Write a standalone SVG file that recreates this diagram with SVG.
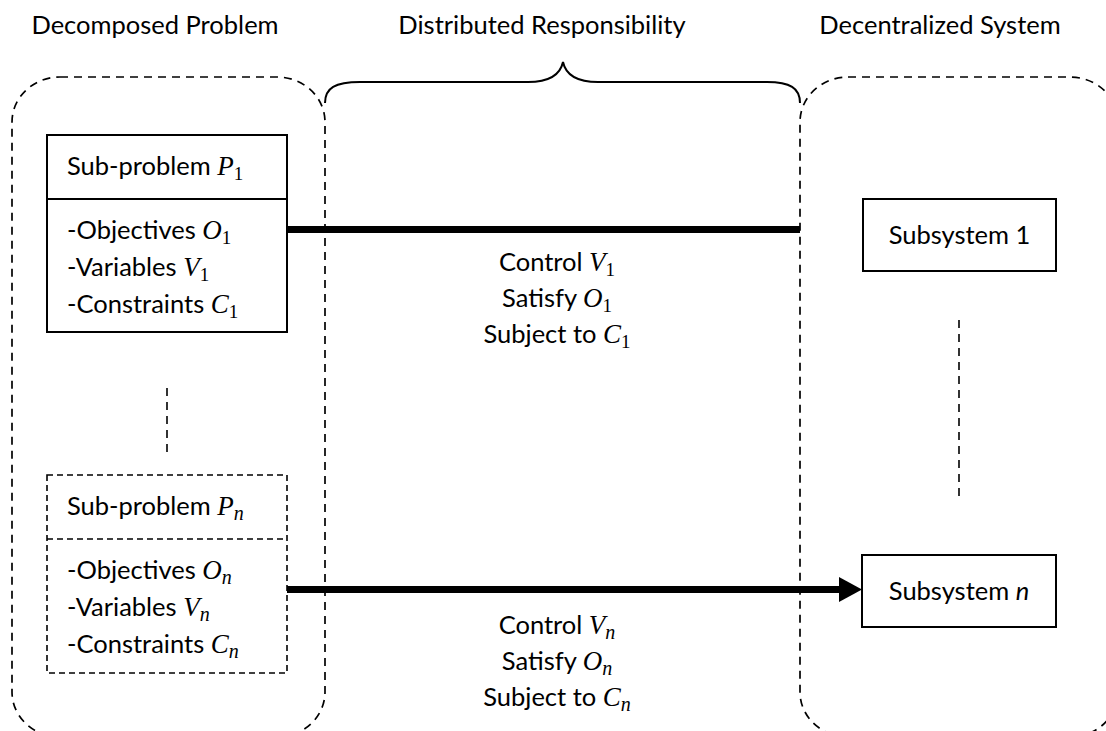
<svg xmlns="http://www.w3.org/2000/svg" width="1106" height="731" viewBox="0 0 1106 731">
<style>
text{font-family:Lato,"Liberation Sans",sans-serif;font-size:25.5px;fill:#000}
.m{font-family:"Liberation Serif",serif;font-style:italic;font-size:27px}
.s{font-family:"Liberation Serif",serif;font-size:19px;font-style:normal}
.si{font-family:"Liberation Serif",serif;font-size:20px;font-style:italic}
.c{text-anchor:middle}
.box{fill:#fff;stroke:#000;stroke-width:2}
.dbox{fill:#fff;stroke:#000;stroke-width:1.6;stroke-dasharray:6 4}
.outer{fill:none;stroke:#000;stroke-width:1.7;stroke-dasharray:8 6}
.thick{stroke:#000;stroke-width:7;fill:none}
</style>
<rect width="1106" height="731" fill="#fff"/>
<g id="titles">
<text class="c" x="155" y="34">Decomposed Problem</text>
<text class="c" x="542" y="34">Distributed Responsibility</text>
<text class="c" x="940" y="34">Decentralized System</text>
</g>
<g id="left-region">
<rect class="outer" x="12" y="77" width="313" height="660" rx="48" ry="45"/>
</g>
<g id="right-region">
<rect class="outer" x="800" y="77" width="318" height="660" rx="48" ry="45"/>
</g>
<g id="brace">
<path d="M325,103 C325,88 335,82 360,82 L528,82 C548,82 560,76 563,62 C566,76 578,82 598,82 L767,82 C790,82 800,88 800,103" fill="none" stroke="#000" stroke-width="2"/>
</g>
<g id="connectors">
<line class="thick" x1="287" y1="229.5" x2="800" y2="229.5"/>
<line class="thick" x1="287" y1="589.5" x2="842" y2="589.5"/>
<polygon points="839,577 862,589.5 839,602" fill="#000"/>
<line x1="167" y1="388" x2="167" y2="454" stroke="#000" stroke-width="1.6" stroke-dasharray="8 6"/>
<line x1="959" y1="320" x2="959" y2="497" stroke="#000" stroke-width="1.6" stroke-dasharray="8 6"/>
</g>
<g id="subproblem1">
<rect class="box" x="47" y="135" width="240" height="197"/>
<line x1="47" y1="199" x2="287" y2="199" stroke="#000" stroke-width="2"/>
<text x="67" y="175">Sub-problem <tspan class="m">P</tspan><tspan class="s" dy="5">1</tspan></text>
<text x="67" y="239">-Objectives <tspan class="m">O</tspan><tspan class="s" dy="5">1</tspan></text>
<text x="67" y="276">-Variables <tspan class="m">V</tspan><tspan class="s" dy="5">1</tspan></text>
<text x="67" y="313">-Constraints <tspan class="m">C</tspan><tspan class="s" dy="5">1</tspan></text>
</g>
<g id="subproblemn">
<rect class="dbox" x="47" y="475" width="240" height="198"/>
<line x1="47" y1="539" x2="287" y2="539" stroke="#000" stroke-width="1.6" stroke-dasharray="6 4"/>
<text x="67" y="515">Sub-problem <tspan class="m">P</tspan><tspan class="si" dy="5">n</tspan></text>
<text x="67" y="579">-Objectives <tspan class="m">O</tspan><tspan class="si" dy="5">n</tspan></text>
<text x="67" y="616">-Variables <tspan class="m">V</tspan><tspan class="si" dy="5">n</tspan></text>
<text x="67" y="653">-Constraints <tspan class="m">C</tspan><tspan class="si" dy="5">n</tspan></text>
</g>
<g id="label1">
<text class="c" x="557" y="271">Control <tspan class="m">V</tspan><tspan class="s" dy="5">1</tspan></text>
<text class="c" x="557" y="307">Satisfy <tspan class="m">O</tspan><tspan class="s" dy="5">1</tspan></text>
<text class="c" x="557" y="343">Subject to <tspan class="m">C</tspan><tspan class="s" dy="5">1</tspan></text>
</g>
<g id="labeln">
<text class="c" x="557" y="634">Control <tspan class="m">V</tspan><tspan class="si" dy="5">n</tspan></text>
<text class="c" x="557" y="670">Satisfy <tspan class="m">O</tspan><tspan class="si" dy="5">n</tspan></text>
<text class="c" x="557" y="706">Subject to <tspan class="m">C</tspan><tspan class="si" dy="5">n</tspan></text>
</g>
<g id="subsystem1">
<rect class="box" x="863" y="199" width="193" height="72"/>
<text class="c" x="959.5" y="244">Subsystem 1</text>
</g>
<g id="subsystemn">
<rect class="box" x="862" y="555" width="194" height="72"/>
<text class="c" x="959" y="600">Subsystem <tspan font-style="italic">n</tspan></text>
</g>
</svg>
